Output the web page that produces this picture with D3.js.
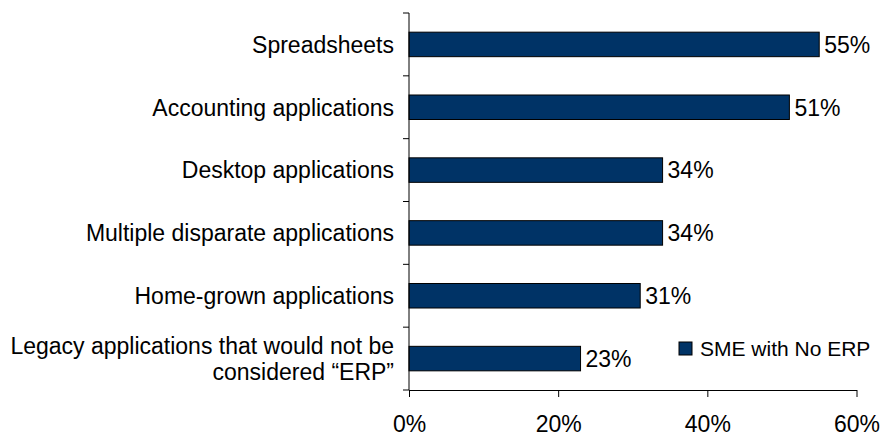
<!DOCTYPE html>
<html><head><meta charset="utf-8">
<script src="https://cdn.jsdelivr.net/npm/d3@7"></script>
<style>body{margin:0;background:#fff}svg{display:block}text{font-family:"Liberation Sans",Arial,sans-serif;fill:#000}</style>
</head><body><svg id="c" width="881" height="436"></svg>
<script>
const categories = [["Spreadsheets"],["Accounting applications"],["Desktop applications"],["Multiple disparate applications"],["Home-grown applications"],["Legacy applications that would not be","considered \u201cERP\u201d"]];
const values = [55,51,34,34,31,23];
const xTicks = [0,20,40,60];
const seriesName = "SME with No ERP";

const svg = d3.select("#c");
const x = d3.scaleLinear().domain([0,60]).range([409,856.5]);
const y = d3.scaleBand().domain(d3.range(categories.length)).range([13,390]).paddingInner(0.61).paddingOuter(0.305);

const g = svg.append("g");
g.selectAll("rect.bar").data(values).join("rect")
  .attr("x", x(0)).attr("y",(d,i)=>y(i)).attr("width",d=>x(d)-x(0)).attr("height",y.bandwidth())
  .attr("fill","#003366").attr("stroke","#000").attr("stroke-width",1);
g.selectAll("text.val").data(values).join("text")
  .attr("x",d=>x(d)+5).attr("y",(d,i)=>y(i)+y.bandwidth()/2).attr("dy","0.36em")
  .style("font-size","23px").text(d=>d+"%");

const yAxisG = svg.append("g").attr("transform","translate(409,0)");
yAxisG.append("line").attr("x1",0).attr("x2",0).attr("y1",13).attr("y2",390).attr("stroke","#000");
const step = y.step();
d3.range(categories.length+1).forEach(i=>{
  const yy = 13 + i*step;
  yAxisG.append("line").attr("x1",-6).attr("x2",0).attr("y1",yy).attr("y2",yy).attr("stroke","#000");
});
categories.forEach((lines,i)=>{
  const cy = y(i)+y.bandwidth()/2;
  const lh = 26;
  const t = svg.append("text").attr("text-anchor","end").style("font-size","23px");
  lines.forEach((l,j)=>{
    t.append("tspan").attr("x",394).attr("y",cy + (j-(lines.length-1)/2)*lh).attr("dy","0.36em").text(l);
  });
});

const xAxis = d3.axisBottom(x).tickValues(xTicks).tickFormat(d=>d+"%").tickSize(7).tickSizeOuter(0);
const xg = svg.append("g").attr("transform","translate(0,390)").call(xAxis);
xg.select(".domain").attr("stroke","#000");
xg.selectAll(".tick line").attr("stroke","#000");
xg.selectAll(".tick text").attr("y",42).attr("dy",0).style("font-size","23px").style("font-family",'"Liberation Sans",Arial,sans-serif').attr("fill","#000");

const lg = svg.append("g").attr("transform","translate(679,342)");
lg.append("rect").attr("width",13).attr("height",13).attr("fill","#003366").attr("stroke","#000");
lg.append("text").attr("x",21).attr("y",6.5).attr("dy","0.36em").style("font-size","21px").text(seriesName);
</script></body></html>
